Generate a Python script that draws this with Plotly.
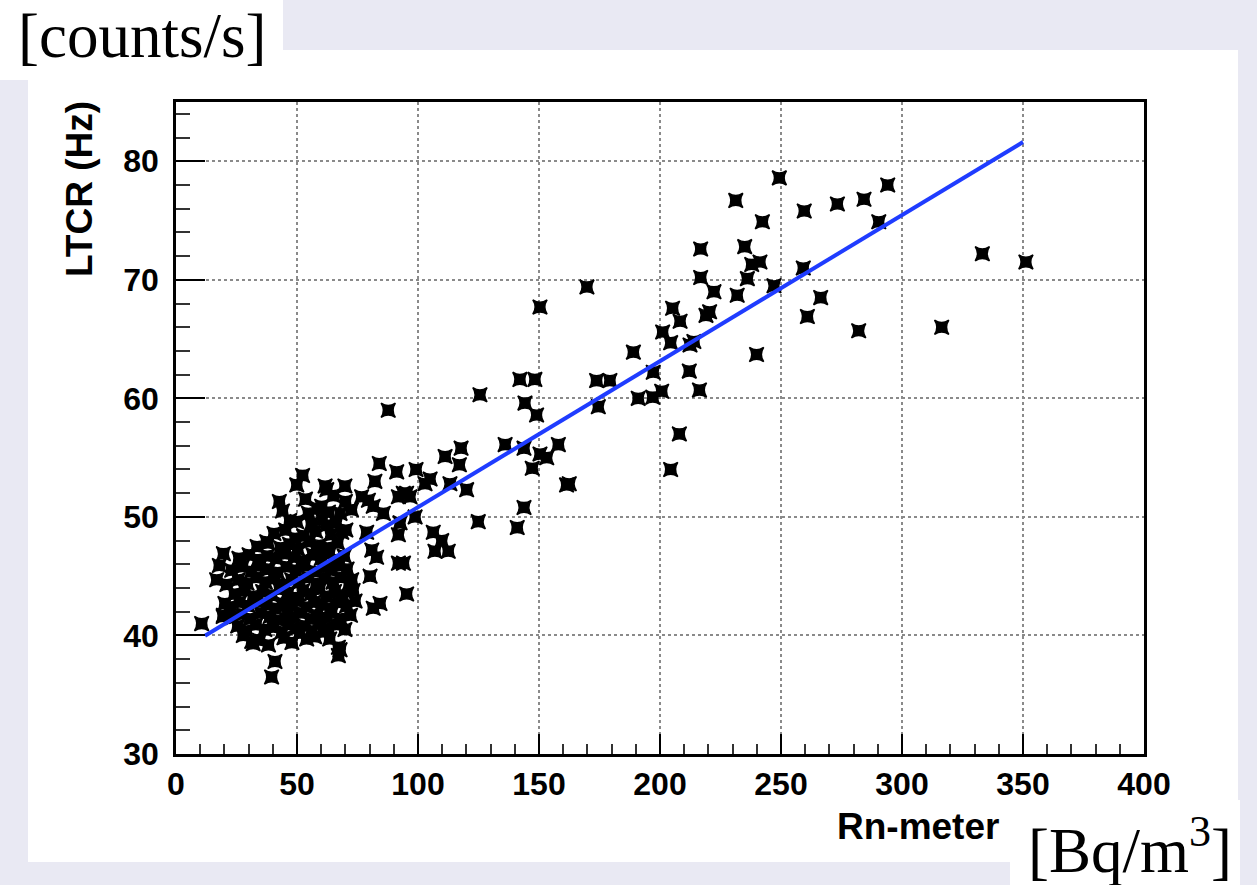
import plotly.graph_objects as go

# ---- data: (Rn-meter [Bq/m3], LTCR [Hz]) ----
high_activity = [
    (249.3, 78.6), (231.3, 76.7), (242.3, 74.9), (216.8, 72.6), (235.0, 72.8),
    (237.9, 71.3), (241.3, 71.5), (216.8, 70.2), (236.1, 70.1), (222.3, 69.0),
    (231.9, 68.7), (247.1, 69.5), (205.2, 67.6), (208.3, 66.5), (219.0, 67.0),
    (220.5, 67.3), (201.1, 65.6), (204.4, 64.7), (212.4, 64.5), (214.0, 64.8),
    (197.2, 62.2), (212.1, 62.3), (200.7, 60.6), (197.0, 60.1), (191.0, 60.0),
    (216.3, 60.7), (239.9, 63.7), (208.0, 57.0), (189.0, 63.9), (204.4, 54.0),
    (259.6, 75.8), (273.3, 76.4), (284.3, 76.8), (294.1, 78.0), (290.4, 74.9),
    (259.2, 71.0), (266.4, 68.5), (260.9, 66.9), (282.1, 65.7), (316.4, 66.0),
    (333.2, 72.2), (351.2, 71.5), (169.8, 69.4), (150.4, 67.7),
]

mid_activity = [
    (173.8, 61.5), (179.3, 61.5), (174.5, 59.3), (142.1, 61.6), (148.3, 61.6),
    (144.2, 59.6), (149.0, 58.6), (125.6, 60.3), (136.0, 56.1), (143.8, 55.8),
    (150.4, 55.3), (153.2, 55.0), (158.0, 56.1), (147.2, 54.1), (161.4, 52.7),
    (162.5, 52.8), (143.8, 50.8), (141.0, 49.1), (124.9, 49.6), (117.8, 55.8),
    (111.2, 55.1), (117.1, 54.4), (99.2, 54.0), (105.0, 53.2), (102.9, 52.8),
    (113.2, 52.8), (120.1, 52.3), (93.9, 52.0), (96.7, 51.7), (98.8, 50.0),
    (92.6, 49.5), (106.3, 48.7), (109.8, 48.0), (107.0, 47.1), (112.5, 47.1),
    (94.0, 46.1), (95.3, 43.5), (87.7, 59.0), (84.0, 54.5), (91.2, 53.8),
    (82.2, 53.0), (91.9, 51.7), (95.3, 52.0), (91.9, 48.5), (91.9, 46.1),
]

low_activity = [
    (52.3, 53.5), (49.9, 52.7), (61.6, 52.6), (62.3, 52.3), (69.8, 52.6),
    (42.7, 51.3), (76.7, 51.7), (79.5, 51.4), (81.5, 50.9), (85.7, 50.3),
    (60.2, 50.9), (67.8, 50.3), (54.7, 50.3), (49.9, 49.6), (62.3, 49.3),
    (68.5, 48.7), (78.8, 48.7), (80.9, 47.2), (82.9, 46.6), (58.1, 47.2),
    (49.2, 48.2), (37.5, 47.9), (19.6, 46.9), (17.9, 45.9), (16.8, 44.7),
    (80.2, 45.0), (72.6, 44.7), (84.3, 42.7), (81.5, 42.3), (10.6, 41.0),
    (19.6, 41.7), (20.2, 42.7), (67.1, 39.0), (31.9, 39.3), (27.8, 40.0),
    (31.3, 39.5), (54.0, 39.7), (67.8, 38.8), (67.1, 38.3), (40.9, 37.8),
    (39.5, 36.5), (19.5, 41.6),
]

dense_core = [
    (34.5, 39.6), (38.2, 39.2), (44.6, 39.8), (47.9, 39.4), (51.2, 40.2),
    (57.3, 39.9), (60.8, 40.3), (63.5, 39.7),
    (25.5, 40.8), (29.1, 40.4), (33.0, 40.9), (36.7, 40.5), (40.2, 40.7),
    (43.8, 40.3), (46.5, 40.9), (49.7, 40.6), (53.3, 40.8), (56.1, 40.4),
    (59.6, 41.0), (62.9, 40.6), (66.4, 40.9), (69.8, 40.5),
    (23.4, 41.5), (27.0, 41.8), (30.6, 41.4), (35.1, 41.9), (38.9, 41.6),
    (42.3, 41.3), (45.9, 41.8), (48.4, 41.5), (51.8, 41.9), (55.5, 41.4),
    (58.2, 41.7), (61.7, 41.5), (64.3, 41.9), (67.9, 41.4), (72.1, 41.7),
    (22.1, 42.4), (26.3, 42.8), (29.8, 42.5), (33.6, 42.9), (37.4, 42.6),
    (41.0, 42.3), (44.1, 42.7), (47.3, 42.5), (50.6, 42.9), (53.9, 42.4),
    (57.0, 42.8), (60.2, 42.6), (63.8, 42.3), (66.7, 42.8), (70.5, 42.5),
    (74.0, 42.9),
    (24.2, 43.5), (28.5, 43.8), (31.9, 43.3), (35.8, 43.7), (39.5, 43.4),
    (42.8, 43.9), (46.2, 43.6), (49.1, 43.2), (52.4, 43.8), (55.8, 43.5),
    (59.3, 43.9), (62.0, 43.3), (65.5, 43.7), (68.8, 43.4), (73.2, 43.8),
    (21.0, 44.3), (25.7, 44.7), (29.4, 44.4), (33.2, 44.9), (36.9, 44.5),
    (40.6, 44.8), (44.5, 44.3), (47.8, 44.7), (51.0, 44.5), (54.6, 44.9),
    (58.0, 44.4), (61.4, 44.8), (64.9, 44.5), (68.1, 44.9), (71.6, 44.4),
    (23.0, 45.5), (27.4, 45.8), (31.1, 45.4), (34.7, 45.9), (38.3, 45.6),
    (42.0, 45.3), (45.6, 45.8), (49.5, 45.5), (53.1, 45.9), (57.5, 45.4),
    (60.9, 45.7), (64.2, 45.5), (67.3, 45.9), (70.7, 45.6),
    (26.0, 46.5), (30.2, 46.8), (34.0, 46.4), (37.7, 46.7), (41.5, 46.5),
    (45.0, 46.9), (48.8, 46.6), (52.0, 46.3), (56.6, 46.8), (60.0, 46.5),
    (63.3, 46.9), (66.0, 46.4), (69.5, 46.7),
    (33.5, 47.5), (38.0, 47.8), (43.2, 47.4), (46.9, 47.7), (50.3, 47.3),
    (55.0, 47.9), (59.1, 47.6), (62.6, 47.4), (66.8, 47.8),
    (40.5, 48.6), (45.3, 48.9), (52.8, 48.4), (57.7, 48.8), (64.0, 48.5),
    (70.2, 48.9),
    (47.0, 49.7), (55.9, 49.4), (60.4, 49.8), (66.2, 49.5),
    (44.0, 50.5), (58.5, 50.7), (63.0, 50.4), (72.5, 50.6),
    (53.5, 51.5), (65.0, 51.8), (70.0, 51.3),
]

# linear fit LTCR = a + b * Rn
FIT_INTERCEPT = 38.5
FIT_SLOPE = 0.1232
FIT_RANGE = [12.0, 350.0]

x_ticks = [0, 50, 100, 150, 200, 250, 300, 350, 400]
y_ticks = [30, 40, 50, 60, 70, 80]

# ---- page geometry (pixels) ----
W, H = 1257, 885
PL, PR, PT, PB = 176, 1144, 102, 754


def px(x):
    return (x - PL) / (PR - PL)


def py(y):
    return (PB - y) / (PB - PT)


points = dense_core + low_activity + mid_activity + high_activity
rn = [p[0] for p in points]
ltcr = [p[1] for p in points]

fig = go.Figure()
fig.add_trace(go.Scatter(
    x=rn, y=ltcr, mode="markers",
    marker=dict(symbol="star-square", size=13, color="black",
                line=dict(width=1.5, color="black")),
    showlegend=False, hoverinfo="skip",
))
fig.add_trace(go.Scatter(
    x=FIT_RANGE, y=[FIT_INTERCEPT + FIT_SLOPE * v for v in FIT_RANGE],
    mode="lines", line=dict(color="#1f3cff", width=4),
    showlegend=False, hoverinfo="skip",
))

tick_font = dict(family="Liberation Sans", size=32, color="black", weight="bold")
grid = dict(showgrid=True, gridcolor="#8a8a8a", gridwidth=1.5, griddash="dot")

fig.update_xaxes(
    range=[0, 400], tickvals=x_ticks, ticks="inside", ticklen=20, tickwidth=2,
    tickcolor="black", minor=dict(dtick=10, ticks="inside", ticklen=10, tickwidth=2, tickcolor="#333"),
    showline=True, linecolor="black", linewidth=2.5, mirror=True, zeroline=False,
    tickfont=tick_font, ticklabelstandoff=0, **grid,
)
fig.update_yaxes(
    range=[30, 85], tickvals=y_ticks, ticks="inside", ticklen=29, tickwidth=2,
    tickcolor="black", minor=dict(dtick=2, ticks="inside", ticklen=14, tickwidth=2, tickcolor="#333"),
    showline=True, linecolor="black", linewidth=2.5, mirror=True, zeroline=False,
    tickfont=tick_font, ticklabelstandoff=8, **grid,
)

white_boxes = [(0, 0, 283, 80), (28, 50, 1238, 862), (1010, 800, 1240, 885)]
shapes = [
    dict(type="rect", xref="paper", yref="paper", layer="below",
         x0=px(x0), x1=px(x1), y0=py(y1), y1=py(y0),
         fillcolor="white", line=dict(width=0))
    for (x0, y0, x1, y1) in white_boxes
]

title_font = dict(family="Liberation Sans", size=37, color="black", weight="bold")
serif_font = dict(family="Liberation Serif", size=63, color="black")
annotations = [
    dict(text="LTCR (Hz)", textangle=-90, x=px(80), y=py(99), xref="paper", yref="paper",
         xanchor="center", yanchor="top", showarrow=False, font=title_font),
    dict(text="Rn-meter", x=px(1001), y=py(826), xref="paper", yref="paper",
         xanchor="right", yanchor="middle", showarrow=False, font=title_font),
    dict(text="[counts/s]", x=px(16), y=py(36), xref="paper", yref="paper",
         xanchor="left", yanchor="middle", showarrow=False, font=serif_font),
    dict(text="[Bq/m<sup>3</sup>]", x=px(1026), y=py(846), xref="paper", yref="paper",
         xanchor="left", yanchor="middle", showarrow=False, font=serif_font),
]

fig.update_layout(
    width=W, height=H,
    margin=dict(l=PL, r=W - PR, t=PT, b=H - PB),
    paper_bgcolor="#e9e9f3", plot_bgcolor="white",
    shapes=shapes, annotations=annotations,
)

fig.write_html("out.html")
